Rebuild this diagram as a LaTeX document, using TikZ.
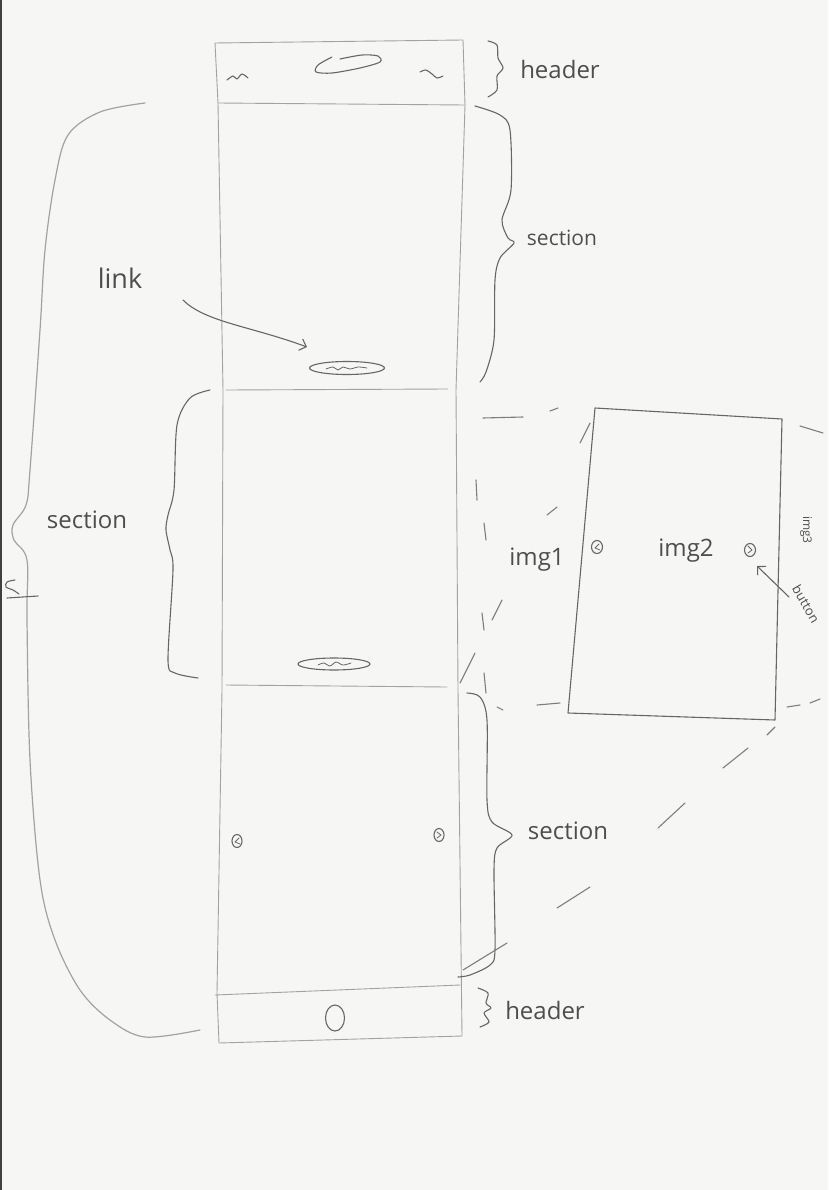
\documentclass[tikz,border=0pt]{standalone}
\usepackage{fontspec}
\setmainfont{Open Sans}
\usetikzlibrary{arrows.meta,shapes.geometric}
\definecolor{paper}{HTML}{F6F6F4}
\definecolor{pencil}{HTML}{666666}
\definecolor{lightpencil}{HTML}{A2A2A2}
\definecolor{ink}{HTML}{4E4E4E}
\begin{document}
\begin{tikzpicture}[x=1pt,y=-1pt,
  sketch/.style={draw=pencil, line width=1.1pt, line cap=round, line join=round},
  faint/.style={draw=lightpencil, line width=0.9pt, line cap=round, line join=round},
  dashmark/.style={draw=pencil!85, line width=1.1pt, line cap=round},
  lbl/.style={text=ink, inner sep=0pt},
  pill/.style={ellipse, draw=pencil, line width=1.1pt, inner sep=0pt},
  btn/.style={ellipse, draw=pencil, line width=1.1pt, inner sep=0pt, minimum width=10pt, minimum height=13pt},
  barb/.style={-{Straight Barb[length=6pt,width=12pt]}}
]
\fill[paper] (0,0) rectangle (828,1190);
\useasboundingbox (0,0) rectangle (828,1190);
\draw[black!75, line width=2.5pt] (1,0) -- (1,1190);

% main column
\draw[faint] (215,43) -- (463,40) -- (465,105) -- (456,390) -- (458,690) -- (462,1036)
  -- (219,1043) -- (217,993) -- (222,690) -- (223,390) -- (218,103) -- cycle;
\draw[faint] (218,103) -- (465,105);
\draw[faint] (226,390) -- (448,389);
\draw[faint] (226,685) -- (447,687);
\draw[faint] (215,995) -- (460,985);

% header content
\draw[sketch] plot[smooth] coordinates {(227,80) (233,76) (237,79) (242,74) (248,78)};
\draw[sketch] plot[smooth] coordinates {(332,57) (318,65) (316,72) (332,73) (360,68) (380,62) (378,56) (362,55) (340,59)};
\draw[sketch] plot[smooth] coordinates {(420,72) (426,70) (432,74) (437,78) (443,76)};

% header brace + label
\draw[sketch] plot[smooth] coordinates {(488,41) (497,45) (498,58) (503,68) (497,76) (497,90) (488,97)};
\node[lbl, font=\fontsize{24}{26}\selectfont] (hdrtop) at (560,70) {header};

% section 1 brace + label
\draw[sketch] plot[smooth] coordinates {(475,106) (500,115) (510,130) (511,190) (502,220) (508,238) (514,243) (500,258) (495,280) (494,340) (486,372) (480,382)};
\node[lbl, font=\fontsize{21}{23}\selectfont] (sec1) at (562,238) {section};

% link label, arrow and pill
\node[lbl, font=\fontsize{27}{29}\selectfont] (linktxt) at (120,278) {link};
\node[pill, minimum width=75pt, minimum height=13pt] (link1) at (347,368) {};
\draw[sketch, line width=0.8pt] plot[smooth] coordinates {(326,369) (333,367) (338,370) (343,367) (350,369) (358,367) (367,368)};
\coordinate (linkfrom) at (183,300);
\coordinate (linkto) at (307,347);
\draw[sketch, barb] (linkfrom) .. controls (205,322) and (250,326) .. (linkto);

% section 2 left brace, label, pill
\draw[sketch] plot[smooth] coordinates {(210,390) (190,398) (177,425) (174,490) (168,515) (166,530) (170,550) (173,570) (168,660) (175,673) (198,678)};
\node[lbl, font=\fontsize{24}{26}\selectfont] (sec2) at (87,520) {section};
\node[pill, minimum width=72pt, minimum height=12pt] (link2) at (334,664) {};
\draw[sketch, line width=0.8pt] plot[smooth] coordinates {(318,665) (324,663) (330,666) (336,662) (343,665) (351,663)};

% big left brace
\draw[faint, line width=1.2pt] plot[smooth, tension=0.55] coordinates {(145,103) (100,112) (68,135) (55,180) (45,250) (40,330) (30,470) (26,505) (13,525) (14,540) (27,560) (27,620) (30,760) (40,880) (55,940) (80,990) (110,1020) (145,1037) (200,1030)};
\draw[sketch] plot[smooth] coordinates {(15,580) (7,582) (6,587) (13,590) (19,594)};
\draw[sketch] (7,598) -- (38,596);

% section 3 buttons, brace, label
\node[btn] (sbtnl) at (237,841) {};
\node[btn] (sbtnr) at (439,835) {};
\draw[sketch, line width=0.8pt] (239,838) -- (235,842) -- (240,844);
\draw[sketch, line width=0.8pt] (437,832) -- (441,835) -- (437,838);
\draw[sketch] plot[smooth] coordinates {(467,693) (480,697) (487,720) (487,800) (492,822) (512,835) (497,848) (494,870) (495,950) (490,965) (470,975) (458,977)};
\node[lbl, font=\fontsize{24}{26}\selectfont] (sec3) at (568,831) {section};

% footer
\node[ellipse, draw=pencil, line width=1.1pt, minimum width=19pt, minimum height=26pt, inner sep=0pt] (homebtn) at (335,1018) {};
\draw[sketch] plot[smooth] coordinates {(478,988) (488,993) (486,1003) (491,1008) (484,1013) (489,1022) (480,1027)};
\node[lbl, font=\fontsize{24}{26}\selectfont] (hdrbot) at (545,1010) {header};

% detail panel
\draw[sketch] (595,408) -- (782,419) -- (775,720) -- (568,713) -- cycle;
\node[btn, minimum width=11pt, minimum height=13pt] (pbtnl) at (597,547) {};
\node[btn, minimum width=11pt, minimum height=13pt] (pbtnr) at (750,550) {};
\draw[sketch, line width=0.8pt] (599,544) -- (595,548) -- (600,550);
\draw[sketch, line width=0.8pt] (748,546) -- (752,550) -- (748,553);
\node[lbl, font=\fontsize{24}{26}\selectfont] (img1) at (537,560) {img1};
\node[lbl, font=\fontsize{24}{26}\selectfont] (img2) at (686,551) {img2};
\node[lbl, font=\fontsize{12}{13}\selectfont, rotate=-90] (img3) at (806,530) {img3};
\node[lbl, font=\fontsize{13}{14}\selectfont, rotate=-60] (btntxt) at (806,604) {button};
\coordinate (btnfrom) at (789,597);
\coordinate (btnto) at (757,566);
\draw[sketch, barb] (btnfrom) -- (btnto);

% dashed outline around img1 (hand-drawn dashes)
\foreach \xa/\ya/\xb/\yb in {483/418/523/417, 550/411/558/408, 800/426/823/433,
  476/480/477/500, 484/523/486/540, 482/613/484/630, 484/673/486/693,
  590/423/580/443, 557/507/547/515, 502/600/492/620, 475/653/460/683,
  497/707/503/710, 537/705/560/703, 787/707/800/705, 810/703/820/699,
  775/727/767/735, 748/748/723/768, 685/803/658/828, 590/887/557/908,
  507/943/463/970}
  \draw[dashmark] (\xa,\ya) -- (\xb,\yb);
\end{tikzpicture}
\end{document}
